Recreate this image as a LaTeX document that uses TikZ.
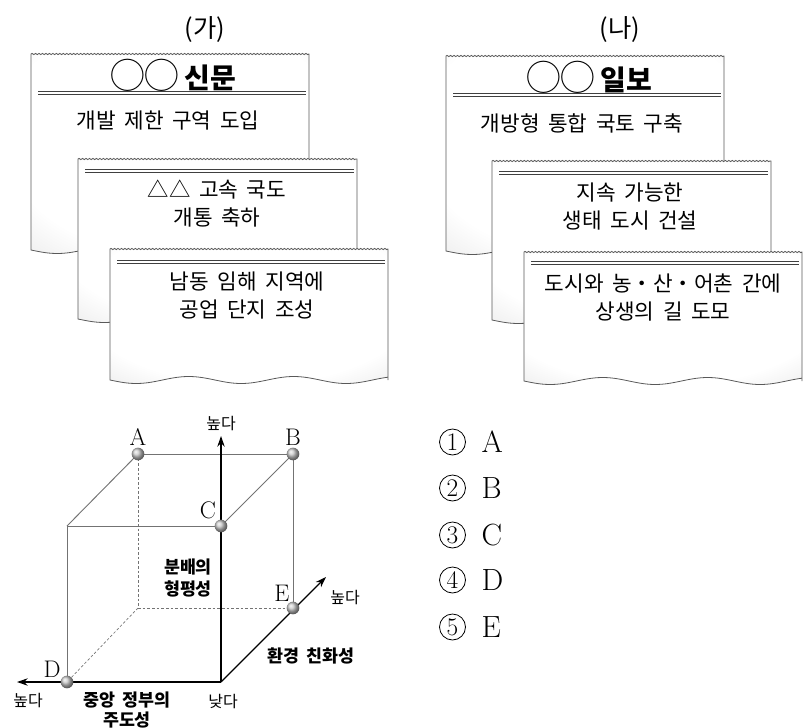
\documentclass[tikz,border=0pt]{standalone}
\usepackage{fontspec}
\newfontfamily\kr{Noto Sans CJK KR}[WordSpace=1.8]
\usetikzlibrary{arrows.meta,decorations.pathmorphing,shadings}
\colorlet{paperA}{black!16}
\colorlet{paperB}{black!28}
\pgfdeclareradialshading{paperbg}{\pgfpoint{0bp}{8bp}}{color(0bp)=(white); color(30bp)=(white); color(52bp)=(paperA); color(75bp)=(paperB)}
\newcommand\paperpage[4]{%
  \path[paper] (#1,#4) -- (#1,#2)
    decorate[decoration={snake,amplitude=0.45pt,segment length=2.6pt}]{ -- (#3,#2)}
    -- (#3,#4)
    -- plot[domain=#3:#1,samples=80,smooth] (\x,{#4+3.5*sin((\x-#1)/105*360)})
    -- cycle;}
\newcommand\bigcircs{{\mdseries\fontsize{26}{26}\selectfont ◯◯}}
\tikzset{
  paper/.style={draw=black!65, line width=0.6pt, shading=paperbg},
  rule/.style={draw=black!75, double=white, double distance=1.3pt, line width=0.5pt},
  edge/.style={draw=black!55, line width=0.7pt},
  hidden/.style={draw=black!55, line width=0.5pt, dash pattern=on 2pt off 1.5pt},
  axis/.style={draw=black, line width=1pt, -{Stealth[length=8pt,width=5.5pt]}},
  ballnode/.style={circle, inner sep=0pt, minimum size=9.5pt, shading=ball, ball color=black!22},
  lab/.style={font=\kr\fontsize{12}{14}\selectfont},
  axlab/.style={font=\kr\bfseries\fontsize{13}{17}\selectfont, align=center},
  letter/.style={font=\fontsize{18}{20}\selectfont},
  choice/.style={font=\fontsize{23}{26}\selectfont, anchor=west},
  numc/.style={circle, draw, line width=0.6pt, inner sep=0pt, minimum size=19.5pt, font=\fontsize{19}{20}\selectfont},
  body/.style={font=\kr\fontsize{16}{21}\selectfont, align=center},
  titletext/.style={font=\kr\bfseries\fontsize{21}{24}\selectfont},
  head/.style={font=\kr\fontsize{19}{22}\selectfont},
}
\begin{document}
\begin{tikzpicture}[x=0.75pt,y=-0.75pt]
\useasboundingbox (0,0) rectangle (803,728);
% ---------- (가) ----------
\node[head] (hga) at (205,30) {(가)};
\paperpage{31}{54}{309}{250}
\draw[rule] (38,93) -- (306,93);
\node[titletext] (t1) at (173,75) {\bigcircs\,신문};
\node[body] (g1) at (168,121) {개발 제한 구역 도입};
\paperpage{78}{159}{357}{319}
\draw[rule] (85,171) -- (354,171);
\node[body] (g2) at (217,204) {△△ 고속 국도\\개통 축하};
\paperpage{110}{249}{388}{380}
\draw[rule] (117,262) -- (385,262);
\node[body] (g3) at (247,296) {남동 임해 지역에\\공업 단지 조성};
% ---------- (나) ----------
\node[head] (hna) at (620,30) {(나)};
\paperpage{446}{56}{724}{251}
\draw[rule] (453,95) -- (721,95);
\node[titletext] (t2) at (589,77) {\bigcircs\,일보};
\node[body] (n1) at (582,123) {개방형 통합 국토 구축};
\paperpage{492}{161}{771}{320}
\draw[rule] (499,173) -- (768,173);
\node[body] (n2) at (630,207) {지속 가능한\\생태 도시 건설};
\paperpage{524}{252}{802}{381}
\draw[rule] (531,263) -- (799,263);
\node[body] (n3) at (663,298) {도시와 농・산・어촌 간에\\상생의 길 도모};
% ---------- cube ----------
\coordinate (a) at (138,454);
\coordinate (b) at (293,454);
\coordinate (c) at (221,526);
\coordinate (d) at (67,682);
\coordinate (e) at (293,608);
\coordinate (ftl) at (67,526);
\coordinate (o) at (221,682);
\coordinate (bbl) at (138,608);
\coordinate (ytip) at (221,436);
\coordinate (xtip) at (17,682);
\coordinate (ztip) at (326,577);
\draw[edge] (a) -- (b);
\draw[edge] (a) -- (ftl);
\draw[edge] (ftl) -- (c);
\draw[edge] (ftl) -- (d);
\draw[edge] (b) -- (c);
\draw[edge] (b) -- (e);
\draw[hidden] (a) -- (bbl);
\draw[hidden] (bbl) -- (e);
\draw[hidden] (bbl) -- (d);
\draw[axis] (o) -- (ytip);
\draw[axis] (o) -- (xtip);
\draw[axis] (o) -- (ztip);
\node[ballnode] (A) at (a) {};
\node[ballnode] (B) at (b) {};
\node[ballnode] (C) at (c) {};
\node[ballnode] (D) at (d) {};
\node[ballnode] (E) at (e) {};
\node[letter] (lA) at (138,437) {A};
\node[letter] (lB) at (293,437) {B};
\node[letter] (lC) at (208,510) {C};
\node[letter] (lD) at (52,669) {D};
\node[letter] (lE) at (282,593) {E};
\node[lab] (hy) at (221,424) {높다};
\node[lab] (hz) at (345,598) {높다};
\node[lab] (hx) at (28,701) {높다};
\node[lab] (lo) at (223,701) {낮다};
\node[axlab] (ax1) at (188,578) {분배의\\형평성};
\node[axlab] (ax2) at (311,656) {환경 친화성};
\node[axlab, font=\kr\bfseries\fontsize{13}{14.5}\selectfont] (ax3) at (127,710) {중앙 정부의\\주도성};
% ---------- choices ----------
\node[numc] (q1) at (452.5,442) {1};
\node[numc] (q2) at (452.5,488) {2};
\node[numc] (q3) at (452.5,535) {3};
\node[numc] (q4) at (452.5,580) {4};
\node[numc] (q5) at (452.5,627) {5};
\node[choice] (c1) at (477,442) {A};
\node[choice] (c2) at (477,488) {B};
\node[choice] (c3) at (477,535) {C};
\node[choice] (c4) at (477,580) {D};
\node[choice] (c5) at (477,627) {E};
\end{tikzpicture}
\end{document}
